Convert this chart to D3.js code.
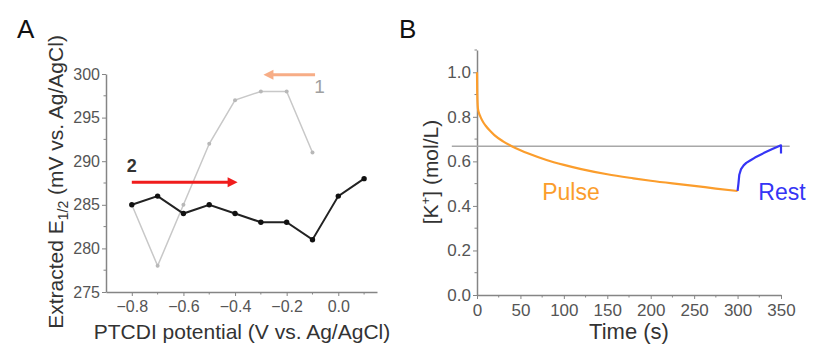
<!DOCTYPE html>
<html>
<head>
<meta charset="utf-8">
<script src="https://cdn.jsdelivr.net/npm/d3@7"></script>
<style>
  html, body { margin: 0; padding: 0; background: #fff; }
  svg { display: block; font-family: "Liberation Sans", Arial, sans-serif; }
</style>
</head>
<body>
<div id="chart"></div>
<script>
// Panel A: extracted E1/2 vs PTCDI potential
const potential1 = [-0.8, -0.7, -0.6, -0.5, -0.4, -0.3, -0.2, -0.1];
const e12Series1 = [285, 278, 285, 292, 297, 298, 298, 291];
const potential2 = [-0.8, -0.7, -0.6, -0.5, -0.4, -0.3, -0.2, -0.1, 0.0, 0.1];
const e12Series2 = [285, 286, 284, 285, 284, 283, 283, 281, 286, 288];
const ticksA_x = [-0.8, -0.6, -0.4, -0.2, 0.0];
const ticksA_y = [275, 280, 285, 290, 295, 300];

// Panel B: [K+] vs time
const pulseTime = [0, 0.3, 1, 2, 4, 7, 10, 15, 20, 30, 40, 50, 60, 80, 100, 120, 150, 180, 200, 225, 250, 275, 300];
const pulseK = [1.0, 0.9, 0.84, 0.82, 0.80, 0.777, 0.76, 0.737, 0.718, 0.69, 0.668, 0.65, 0.634, 0.606, 0.584, 0.565, 0.542, 0.524, 0.513, 0.501, 0.49, 0.478, 0.467];
const restTime = [300, 301, 302, 304, 307, 310, 315, 320, 330, 340, 350, 350];
const restK = [0.467, 0.50, 0.54, 0.565, 0.582, 0.593, 0.605, 0.617, 0.637, 0.655, 0.672, 0.635];
const refLevel = 0.668;
const refSpan = [-29, 360];
const ticksB_x = [0, 50, 100, 150, 200, 250, 300, 350];
const ticksB_y = [0.0, 0.2, 0.4, 0.6, 0.8, 1.0];

const width = 837, height = 352;
const axisColor = "#858585";
const tickText = "#555";
const titleText = "#333";

const svg = d3.select("#chart").append("svg")
  .attr("width", width)
  .attr("height", height);

const fmtMinus = s => s.replace("-", "\u2212");

// ---------- Panel A ----------
const xA = d3.scaleLinear().domain([-0.9, 0.15]).range([106, 377]);
const yA = d3.scaleLinear().domain([275, 300]).range([292, 74]);

const gA = svg.append("g");

gA.append("g")
  .attr("class", "ax-a")
  .attr("transform", `translate(${xA.range()[0]},0)`)
  .call(d3.axisLeft(yA).tickValues(ticksA_y).tickSize(4).tickSizeOuter(0).tickPadding(2).tickFormat(d3.format("d")));
gA.append("g")
  .attr("class", "ax-a")
  .attr("transform", `translate(0,${yA.range()[0]})`)
  .call(d3.axisBottom(xA).tickValues(ticksA_x).tickSize(4).tickSizeOuter(0).tickPadding(5)
    .tickFormat(d => fmtMinus(d3.format(".1f")(d))));

// minor ticks
gA.append("g").selectAll("line")
  .data([-0.7, -0.5, -0.3, -0.1, 0.1])
  .join("line")
  .attr("x1", d => xA(d)).attr("x2", d => xA(d))
  .attr("y1", yA.range()[0]).attr("y2", yA.range()[0] + 2.5)
  .attr("stroke", axisColor);
gA.append("g").selectAll("line")
  .data([277.5, 282.5, 287.5, 292.5, 297.5])
  .join("line")
  .attr("x1", xA.range()[0] - 2.5).attr("x2", xA.range()[0])
  .attr("y1", d => yA(d)).attr("y2", d => yA(d))
  .attr("stroke", axisColor);

// series 1 (gray)
const s1 = potential1.map((p, i) => [p, e12Series1[i]]);
gA.append("path")
  .datum(s1)
  .attr("fill", "none")
  .attr("stroke", "#c8c8c8")
  .attr("stroke-width", 1.5)
  .attr("d", d3.line().x(d => xA(d[0])).y(d => yA(d[1])));
gA.append("g").selectAll("circle")
  .data(s1).join("circle")
  .attr("cx", d => xA(d[0])).attr("cy", d => yA(d[1]))
  .attr("r", 2).attr("fill", "#b8b8b8");

// series 2 (black)
const s2 = potential2.map((p, i) => [p, e12Series2[i]]);
gA.append("path")
  .datum(s2)
  .attr("fill", "none")
  .attr("stroke", "#222")
  .attr("stroke-width", 2)
  .attr("d", d3.line().x(d => xA(d[0])).y(d => yA(d[1])));
gA.append("g").selectAll("circle")
  .data(s2).join("circle")
  .attr("cx", d => xA(d[0])).attr("cy", d => yA(d[1]))
  .attr("r", 2.7).attr("fill", "#111");

// arrows
function arrow(g, x1, x2, y, color, w) {
  const dir = Math.sign(x2 - x1);
  g.append("line")
    .attr("x1", x1).attr("x2", x2 - dir * 8)
    .attr("y1", y).attr("y2", y)
    .attr("stroke", color).attr("stroke-width", w);
  g.append("path")
    .attr("d", `M${x2},${y} L${x2 - dir * 10},${y - 5} L${x2 - dir * 10},${y + 5} Z`)
    .attr("fill", color);
}
arrow(gA, xA(-0.09), xA(-0.29), yA(299.9), "#f7ad86", 3);
arrow(gA, xA(-0.8), xA(-0.39), yA(287.6), "#f01c1c", 3);

gA.append("text").attr("x", xA(-0.073)).attr("y", yA(297.8))
  .attr("text-anchor", "middle").attr("font-size", 19).attr("fill", "#a0a0a0").text("1");
gA.append("text").attr("x", xA(-0.8)).attr("y", yA(288.8))
  .attr("text-anchor", "middle").attr("font-size", 18).attr("font-weight", "bold").attr("fill", "#333").text("2");

// titles
gA.append("text").attr("x", 242).attr("y", 339)
  .attr("text-anchor", "middle").attr("font-size", 21).attr("fill", titleText)
  .text("PTCDI potential (V vs. Ag/AgCl)");
const tA = gA.append("text")
  .attr("transform", "translate(63,182) rotate(-90)")
  .attr("text-anchor", "middle").attr("font-size", 21).attr("fill", titleText);
tA.append("tspan").text("Extracted E");
tA.append("tspan").attr("font-size", 14).attr("dy", 5).text("1/2");
tA.append("tspan").attr("dy", -5).text(" (mV vs. Ag/AgCl)");

gA.append("text").attr("x", 17).attr("y", 38).attr("font-size", 26).attr("fill", "#111").text("A");

// ---------- Panel B ----------
const xB = d3.scaleLinear().domain([0, 350]).range([477, 781]);
const yB = d3.scaleLinear().domain([0, 1.1]).range([295, 50]);

const gB = svg.append("g");

gB.append("g")
  .attr("class", "ax-b")
  .attr("transform", `translate(${xB.range()[0]},0)`)
  .call(d3.axisLeft(yB).tickValues(ticksB_y).tickSize(4).tickSizeOuter(0).tickPadding(2).tickFormat(d3.format(".1f")));
gB.append("g")
  .attr("class", "ax-b")
  .attr("transform", `translate(0,${yB.range()[0]})`)
  .call(d3.axisBottom(xB).tickValues(ticksB_x).tickSize(4).tickSizeOuter(0).tickPadding(5));

gB.append("g").selectAll("line")
  .data([25, 75, 125, 175, 225, 275, 325])
  .join("line")
  .attr("x1", d => xB(d)).attr("x2", d => xB(d))
  .attr("y1", yB.range()[0]).attr("y2", yB.range()[0] + 2.5)
  .attr("stroke", axisColor);
gB.append("g").selectAll("line")
  .data([0.1, 0.3, 0.5, 0.7, 0.9, 1.1])
  .join("line")
  .attr("x1", xB.range()[0] - 2.5).attr("x2", xB.range()[0])
  .attr("y1", d => yB(d)).attr("y2", d => yB(d))
  .attr("stroke", axisColor);

// reference level
gB.append("line")
  .attr("x1", xB(refSpan[0])).attr("x2", xB(refSpan[1]))
  .attr("y1", yB(refLevel)).attr("y2", yB(refLevel))
  .attr("stroke", "#a8a8a8").attr("stroke-width", 1.5);

const pulse = pulseTime.map((t, i) => [t, pulseK[i]]);
gB.append("path")
  .datum(pulse)
  .attr("fill", "none")
  .attr("stroke", "#fb9d2c")
  .attr("stroke-width", 2.2)
  .attr("d", d3.line().curve(d3.curveMonotoneX).x(d => xB(d[0])).y(d => yB(d[1])));

const rest = restTime.map((t, i) => [t, restK[i]]);
gB.append("path")
  .datum(rest)
  .attr("fill", "none")
  .attr("stroke", "#3535f5")
  .attr("stroke-width", 2.2)
  .attr("stroke-linejoin", "round")
  .attr("d", d3.line().x(d => xB(d[0])).y(d => yB(d[1])));

gB.append("text").attr("x", 571).attr("y", 200)
  .attr("text-anchor", "middle").attr("font-size", 23).attr("fill", "#fb9d2c").text("Pulse");
gB.append("text").attr("x", 782).attr("y", 200)
  .attr("text-anchor", "middle").attr("font-size", 23).attr("fill", "#3535f5").text("Rest");

gB.append("text").attr("x", 629).attr("y", 339)
  .attr("text-anchor", "middle").attr("font-size", 22).attr("fill", titleText).text("Time (s)");
const tB = gB.append("text")
  .attr("transform", "translate(438,172) rotate(-90)")
  .attr("text-anchor", "middle").attr("font-size", 21).attr("fill", titleText);
tB.append("tspan").text("[K");
tB.append("tspan").attr("font-size", 13).attr("dy", -8).text("+");
tB.append("tspan").attr("dy", 8).text("] (mol/L)");

gB.append("text").attr("x", 399).attr("y", 38).attr("font-size", 26).attr("fill", "#111").text("B");

// common axis styling
svg.selectAll(".domain").attr("stroke", axisColor).attr("stroke-width", 1.5);
svg.selectAll(".tick line").attr("stroke", axisColor);
svg.selectAll(".tick text").attr("fill", tickText)
  .attr("font-family", "\"Liberation Sans\", Arial, sans-serif");
svg.selectAll(".ax-a .tick text").attr("font-size", 16);
svg.selectAll(".ax-b .tick text").attr("font-size", 17);
</script>
</body>
</html>
